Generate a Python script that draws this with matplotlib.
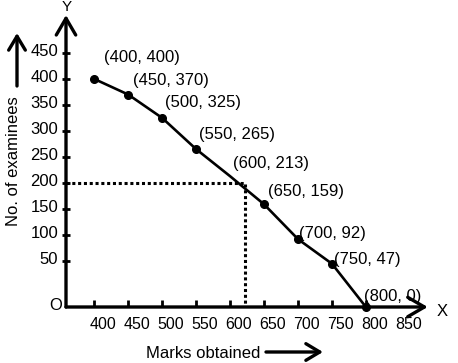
import numpy as np
import matplotlib.pyplot as plt
from matplotlib.transforms import ScaledTranslation

plt.rcParams['font.family'] = ['Liberation Sans', 'DejaVu Sans']

# ogive data (marks obtained vs. number of examinees)
marks = [400, 450, 500, 550, 600, 650, 700, 750, 800]
examinees = [400, 370, 325, 265, 213, 159, 92, 47, 0]
has_dot = [True, True, True, True, False, True, True, True, True]

x_ticks = [400, 450, 500, 550, 600, 650, 700, 750, 800, 850]
y_ticks = [50, 100, 150, 200, 250, 300, 350, 400, 450]

# median read-off
median_y = 200
median_x = 622

# where each point label sits (pixels from the point, right / down)
label_offsets = [(10, -21), (5, -14), (3, -15), (3, -15), (3, -13),
                 (4, -13), (1, -6), (2, -4), (-2, -10)]


# y axis is stretched between 0 and 50 (hand drawn chart)
def fwd(y):
    y = np.asarray(y, dtype=float)
    return np.where(y < 50, y * 46 / 50, 46 + (y - 50) * 26 / 50)


def inv(u):
    u = np.asarray(u, dtype=float)
    return np.where(u < 46, u * 50 / 46, 50 + (u - 46) * 50 / 26)


fig = plt.figure(figsize=(4.58, 3.63), dpi=100)
ax = fig.add_axes([66 / 458, 56 / 363, 374 / 458, 299 / 363])
ax.set_yscale('function', functions=(fwd, inv))
x0, x1 = 358.3, 909.1
ax.set_xlim(x0, x1)
ax.set_ylim(0, 536.5)
for s in ax.spines.values():
    s.set_visible(False)

# axes with arrow heads
arrow = dict(arrowstyle='->,head_length=0.6,head_width=0.35', lw=2.4,
             color='black', shrinkA=0, shrinkB=0, mutation_scale=20)
ax.annotate('', xy=(x0, 523), xytext=(x0, 0), arrowprops=arrow)
ax.annotate('', xy=(891, 0), xytext=(x0, 0), arrowprops=arrow)

ax.set_xticks(x_ticks)
ax.set_xticklabels([str(v) for v in x_ticks])
ax.set_yticks(y_ticks)
ax.set_yticklabels([str(v) for v in y_ticks])
ax.tick_params(axis='x', direction='in', length=5, width=2, pad=7,
               labelsize=11.5)
ax.tick_params(axis='y', direction='inout', length=6, width=2, pad=2.7,
               labelsize=12)
ax.xaxis.get_major_ticks()[-1].tick1line.set_visible(False)
for lab in ax.get_xticklabels():
    lab.set_transform(lab.get_transform()
                      + ScaledTranslation(6 / 72, 0, fig.dpi_scale_trans))
for lab in ax.get_yticklabels():
    lab.set_transform(lab.get_transform()
                      + ScaledTranslation(0, 2 / 72, fig.dpi_scale_trans))

# median dotted lines
ax.plot([x0, median_x, median_x], [median_y, median_y, 0], color='black',
        lw=2.2, linestyle=(0, (1, 0.9)), clip_on=False)

# the ogive
dot_idx = [i for i, d in enumerate(has_dot) if d]
ax.plot(marks, examinees, color='black', lw=1.9, marker='o', markersize=5.5,
        markevery=dot_idx, clip_on=False, zorder=3)

for (mx, ny), (dx, dy) in zip(zip(marks, examinees), label_offsets):
    ax.annotate(f'({mx}, {ny})', xy=(mx, ny), xytext=(dx, -dy),
                textcoords='offset pixels', ha='left', va='center',
                fontsize=12)

# axis names and letters
fig.text(56 / 458, 1 - 305 / 363, 'O', ha='center', va='center', fontsize=12)
fig.text(442 / 458, 1 - 312 / 363, 'X', ha='center', va='center', fontsize=12)
fig.text(67 / 458, 1 - 7 / 363, 'Y', ha='center', va='center', fontsize=11)
fig.text(203 / 458, 1 - 353 / 363, 'Marks obtained', ha='center',
         va='center', fontsize=12)
fig.text(14 / 458, 1 - 161 / 363, 'No. of examinees', ha='center',
         va='center', rotation=90, fontsize=12)

side_arrow = dict(arrowstyle='->,head_length=0.5,head_width=0.3', lw=2.4,
                  color='black', shrinkA=0, shrinkB=0, mutation_scale=20)
ax.annotate('', xy=(323, 363 - 352), xytext=(266, 363 - 352),
            xycoords='figure pixels', textcoords='figure pixels',
            arrowprops=side_arrow)
ax.annotate('', xy=(17, 363 - 33), xytext=(17, 363 - 86),
            xycoords='figure pixels', textcoords='figure pixels',
            arrowprops=side_arrow)

fig.savefig('out.png', dpi=100)
